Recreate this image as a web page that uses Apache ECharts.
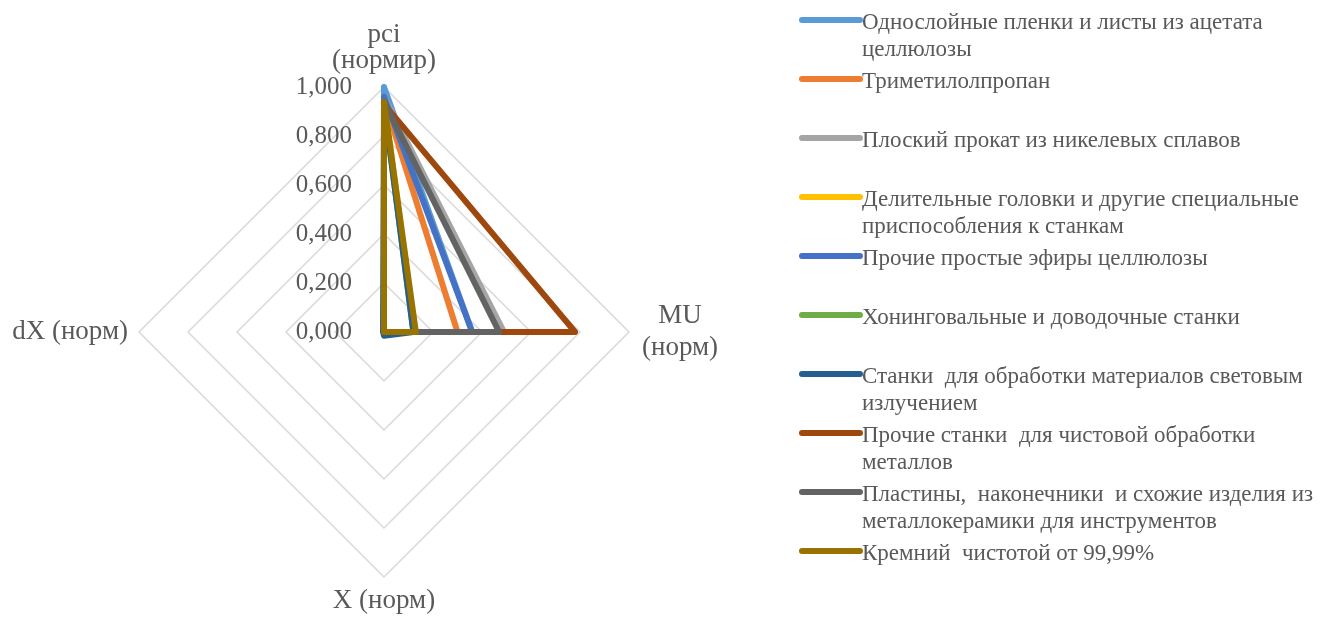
<!DOCTYPE html>
<html>
<head>
<meta charset="utf-8">
<script src="https://cdn.jsdelivr.net/npm/echarts@6/dist/echarts.min.js"></script>
<style>
  html, body { margin: 0; padding: 0; background: #ffffff; }
  #chart { width: 1341px; height: 617px; }
</style>
</head>
<body>
<div id="chart"></div>
<script>
// Radar axes, counter-clockwise from the top
const axisNames = ['pci\n(нормир)', 'dX (норм)', 'X (норм)', 'MU\n(норм)'];
const tickLabels = ['0,000', '0,200', '0,400', '0,600', '0,800', '1,000'];

const seriesNames = [
  'Однослойные пленки и листы из ацетата целлюлозы',
  'Триметилолпропан',
  'Плоский прокат из никелевых сплавов',
  'Делительные головки и другие специальные приспособления к станкам',
  'Прочие простые эфиры целлюлозы',
  'Хонинговальные и доводочные станки',
  'Станки для обработки материалов световым излучением',
  'Прочие станки для чистовой обработки металлов',
  'Пластины, наконечники и схожие изделия из металлокерамики для инструментов',
  'Кремний чистотой от 99,99%'
];
// Wrapped legend text
const legendText = [
  'Однослойные пленки и листы из ацетата\nцеллюлозы',
  'Триметилолпропан\n ',
  'Плоский прокат из никелевых сплавов\n ',
  'Делительные головки и другие специальные\nприспособления к станкам',
  'Прочие простые эфиры целлюлозы\n ',
  'Хонинговальные и доводочные станки\n ',
  'Станки  для обработки материалов световым\nизлучением',
  'Прочие станки  для чистовой обработки\nметаллов',
  'Пластины,  наконечники  и схожие изделия из\nметаллокерамики для инструментов',
  'Кремний  чистотой от 99,99%\n '
];
const seriesColors = ['#5B9BD5', '#ED7D31', '#A5A5A5', '#FFC000', '#4472C4',
                      '#70AD47', '#255E91', '#9E480E', '#636363', '#997300'];

// Normalised values per product
const pciValues = [1.000, 0.950, 0.960, 0.950, 0.960, 0.930, 0.930, 0.930, 0.940, 0.940];
const muValues  = [0.360, 0.300, 0.490, 0.125, 0.360, 0.120, 0.120, 0.780, 0.470, 0.130];
const xValues   = [0.000, 0.000, 0.000, 0.000, 0.000, 0.000, 0.015, 0.000, 0.000, 0.000];
const dxValues  = [0.000, 0.000, 0.000, 0.000, 0.000, 0.000, 0.004, 0.000, 0.000, 0.000];

const textColor = '#595959';
const fontFamily = '"Liberation Serif", "Times New Roman", serif';

const chart = echarts.init(document.getElementById('chart'), null, { renderer: 'canvas' });

const indicator = axisNames.map(function (n, i) {
  const ind = { name: n, min: 0, max: 1 };
  if (i === 0) {
    ind.axisLabel = {
      show: true,
      color: textColor,
      fontFamily: fontFamily,
      fontSize: 25,
      margin: 32,
      padding: [4, 0, 0, 0],
      formatter: function (v) { return tickLabels[Math.round(v * 5)]; }
    };
  }
  return ind;
});

const legendMap = {};
seriesNames.forEach(function (n, i) { legendMap[n] = legendText[i]; });

const series = [{
  type: 'radar',
  symbol: 'none',
  data: seriesNames.map(function (n, i) {
    return {
      name: n,
      value: [pciValues[i], dxValues[i], xValues[i], muValues[i]],
      lineStyle: { color: seriesColors[i], width: 6, join: 'round', cap: 'round' },
      itemStyle: { color: seriesColors[i] }
    };
  })
}];

chart.setOption({
  animation: false,
  backgroundColor: '#ffffff',
  color: seriesColors,
  legend: {
    orient: 'vertical',
    left: 794,
    top: 4,
    itemWidth: 64,
    itemHeight: 55,
    itemGap: 4,
    icon: 'path://M3,8 L61,8 A3,3 0 0 1 61,14 L3,14 A3,3 0 0 1 3,8 Z M0,0 L0.01,0 L0,0.01 Z M0,55 L0.01,55 L0,55.01 Z',
    data: seriesNames,
    formatter: function (n) { return legendMap[n]; },
    textStyle: {
      color: textColor,
      fontFamily: fontFamily,
      fontSize: 23,
      lineHeight: 27.5,
      padding: [0, 0, 0, -6]
    }
  },
  radar: {
    center: [384, 332],
    radius: 245,
    shape: 'polygon',
    splitNumber: 5,
    nameGap: 11,
    axisName: {
      color: textColor,
      fontFamily: fontFamily,
      fontSize: 27,
      lineHeight: 26,
      formatter: function (name) {
        if (name.indexOf('MU') === 0) {
          return name.split('\n').map(function (s) { return '{c|' + s + '}'; }).join('\n');
        }
        return name;
      },
      rich: {
        c: { align: 'center', width: 80, color: textColor, fontFamily: fontFamily, fontSize: 27, lineHeight: 32 }
      }
    },
    axisLine: { show: false },
    axisTick: { show: false },
    axisLabel: { show: false },
    splitArea: { show: false },
    splitLine: { lineStyle: { color: '#D9D9D9', width: 1.5 } },
    indicator: indicator
  },
  series: series
});
</script>
</body>
</html>
